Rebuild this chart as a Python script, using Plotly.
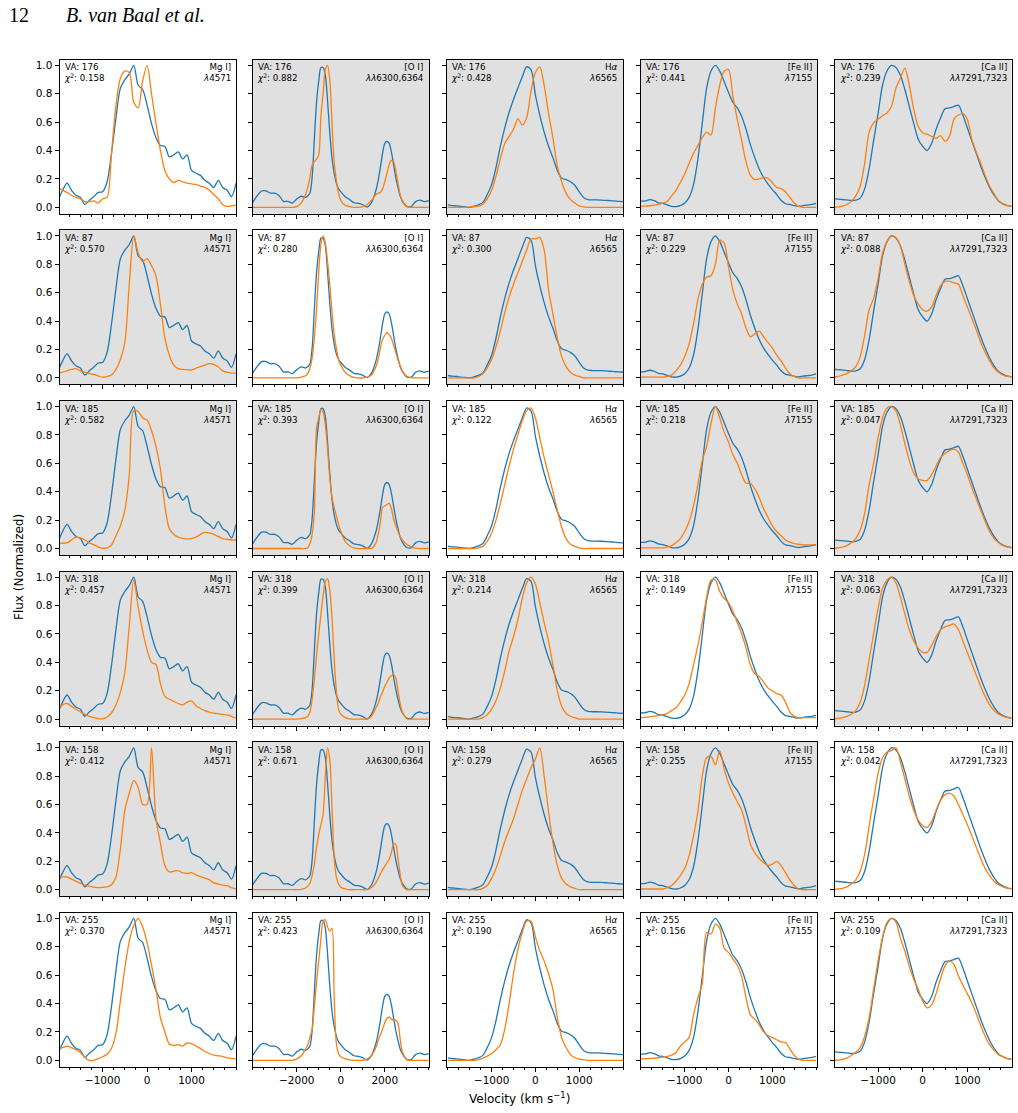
import plotly.graph_objects as go

# ---------------- data ----------------
VA = [176, 87, 185, 318, 158, 255]
LINE_NAMES = ["Mg I]", "[O I]", "H<i>α</i>", "[Fe II]", "[Ca II]"]
LINE_WAVES = ["<i>λ</i>4571", "<i>λλ</i>6300,6364", "<i>λ</i>6565", "<i>λ</i>7155", "<i>λλ</i>7291,7323"]
CHI2 = [
    [0.158, 0.882, 0.428, 0.441, 0.239],
    [0.570, 0.280, 0.300, 0.229, 0.088],
    [0.582, 0.393, 0.122, 0.218, 0.047],
    [0.457, 0.399, 0.214, 0.149, 0.063],
    [0.412, 0.671, 0.279, 0.255, 0.042],
    [0.370, 0.423, 0.190, 0.156, 0.109],
]
BEST = [  # panels drawn on white (best fit per line, and the last row)
    [1, 0, 0, 0, 0],
    [0, 1, 0, 0, 0],
    [0, 0, 1, 0, 0],
    [0, 0, 0, 1, 0],
    [0, 0, 0, 0, 1],
    [1, 1, 1, 1, 1],
]
X_TICKS = [[-1000, 0, 1000], [-2000, 0, 2000], [-1000, 0, 1000], [-1000, 0, 1000], [-1000, 0, 1000]]
Y_TICKS = [0.0, 0.2, 0.4, 0.6, 0.8, 1.0]

VEL = [-2000, -1900, -1800, -1700, -1600, -1500, -1400, -1300, -1200, -1100, -1000,
       -900, -800, -700, -600, -500, -400, -300, -200, -100, 0,
       100, 200, 300, 400, 500, 600, 700, 800, 900, 1000,
       1100, 1200, 1300, 1400, 1500, 1600, 1700, 1800, 1900, 2000]

VEL_OI = [-4000, -3800, -3600, -3400, -3200, -3000, -2800, -2600, -2400, -2200, -2000, -1800, -1600,
          -1500, -1400, -1300, -1200, -1100, -1000, -900, -800, -700, -600, -500, -400, -300, -200, -100, 0,
          200, 400, 600, 800, 1000, 1200, 1400, 1600,
          1700, 1800, 1900, 2000, 2100, 2200, 2300, 2400, 2500, 2600, 2700, 2800,
          3000, 3200, 3400, 3600, 3800, 4000]

# observed spectra (blue), one per line
MG_OBS = [0.05, 0.12, 0.17, 0.12, 0.085, 0.07, 0.02, 0.05, 0.075, 0.105, 0.11,
          0.18, 0.38, 0.63, 0.84, 0.90, 0.94, 1.0, 0.86, 0.83, 0.72,
          0.59, 0.49, 0.435, 0.43, 0.355, 0.37, 0.39, 0.34, 0.37, 0.26,
          0.24, 0.225, 0.19, 0.17, 0.14, 0.19, 0.14, 0.12, 0.075, 0.17]
OI_OBS = [0.035, 0.08, 0.115, 0.115, 0.10, 0.10, 0.082, 0.042, 0.042, 0.03, 0.058, 0.078, 0.07,
          0.08, 0.10, 0.21, 0.48, 0.74, 0.89, 0.985, 0.985, 0.93, 0.75, 0.53, 0.35, 0.24, 0.17, 0.13, 0.11,
          0.075, 0.055, 0.032, 0.028, 0.018, 0.002, 0.035, 0.12,
          0.19, 0.28, 0.38, 0.45, 0.465, 0.45, 0.39, 0.30, 0.21, 0.14, 0.08, 0.045,
          0.007, 0.005, 0.04, 0.05, 0.04, 0.047]
HA_OBS = [0.017, 0.012, 0.01, 0.006, 0.003, 0.0, 0.008, 0.018, 0.035, 0.09, 0.16,
          0.28, 0.43, 0.56, 0.67, 0.76, 0.84, 0.92, 0.99, 0.97, 0.79,
          0.65, 0.53, 0.43, 0.35, 0.26, 0.205, 0.195, 0.18, 0.155, 0.11,
          0.07, 0.055, 0.052, 0.052, 0.051, 0.049, 0.047, 0.045, 0.042, 0.04]
FE_OBS = [0.043, 0.045, 0.054, 0.047, 0.032, 0.028, 0.018, 0.007, 0.005, 0.012, 0.03,
          0.07, 0.16, 0.34, 0.59, 0.84, 0.96, 1.0, 0.96, 0.886, 0.81,
          0.74, 0.70, 0.64, 0.55, 0.44, 0.35, 0.27, 0.21, 0.165, 0.125,
          0.09, 0.05, 0.025, 0.02, 0.012, 0.007, 0.012, 0.016, 0.02, 0.028]
CA_OBS = [0.06, 0.058, 0.055, 0.052, 0.048, 0.05, 0.065, 0.13, 0.27, 0.47, 0.66,
          0.86, 0.96, 1.0, 0.985, 0.93, 0.83, 0.71, 0.59, 0.48, 0.43,
          0.40, 0.45, 0.55, 0.63, 0.695, 0.70, 0.71, 0.72, 0.65, 0.56,
          0.47, 0.38, 0.29, 0.21, 0.14, 0.085, 0.045, 0.025, 0.012, 0.007]

# model spectra (orange), one per viewing angle (rows)
MG_MOD = [
    [0.135, 0.12, 0.105, 0.085, 0.07, 0.06, 0.04, 0.04, 0.045, 0.03, 0.06,
     0.07, 0.38, 0.72, 0.91, 0.96, 0.95, 0.74, 0.70, 0.89, 1.0,
     0.80, 0.59, 0.40, 0.26, 0.20, 0.175, 0.19, 0.18, 0.17, 0.165,
     0.16, 0.15, 0.14, 0.12, 0.09, 0.06, 0.02, 0.005, 0.01, 0.015],
    [0.034, 0.04, 0.05, 0.06, 0.065, 0.05, 0.04, 0.03, 0.025, 0.015, 0.005,
     0.01, 0.02, 0.06, 0.13, 0.25, 0.66, 1.0, 0.88, 0.82, 0.84,
     0.79, 0.72, 0.52, 0.28, 0.16, 0.09, 0.065, 0.06, 0.058, 0.056,
     0.068, 0.08, 0.09, 0.10, 0.095, 0.078, 0.05, 0.04, 0.034, 0.034],
    [0.04, 0.037, 0.04, 0.06, 0.08, 0.075, 0.06, 0.04, 0.028, 0.012, 0.002,
     0.005, 0.025, 0.09, 0.16, 0.27, 0.52, 0.97, 0.965, 0.92, 0.905,
     0.83, 0.72, 0.56, 0.30, 0.14, 0.10, 0.08, 0.072, 0.068, 0.07,
     0.08, 0.10, 0.114, 0.11, 0.10, 0.085, 0.07, 0.065, 0.06, 0.06],
    [0.07, 0.10, 0.11, 0.09, 0.07, 0.05, 0.033, 0.02, 0.012, 0.003, 0.002,
     0.015, 0.045, 0.10, 0.19, 0.33, 0.66, 0.98, 0.79, 0.62, 0.49,
     0.40, 0.385, 0.25, 0.16, 0.14, 0.125, 0.11, 0.10, 0.12, 0.128,
     0.095, 0.075, 0.06, 0.05, 0.042, 0.038, 0.033, 0.03, 0.02, 0.006],
    [0.08, 0.09, 0.09, 0.075, 0.06, 0.045, 0.033, 0.025, 0.018, 0.015, 0.016,
     0.02, 0.035, 0.09, 0.29, 0.56, 0.68, 0.77, 0.72, 0.60, 0.60,
     1.0, 0.50, 0.33, 0.17, 0.125, 0.13, 0.135, 0.118, 0.115, 0.12,
     0.105, 0.092, 0.082, 0.07, 0.048, 0.04, 0.032, 0.028, 0.015, 0.006],
    [0.08, 0.09, 0.10, 0.09, 0.075, 0.055, 0.02, 0.0, 0.0, 0.012, 0.025,
     0.042, 0.085, 0.19, 0.42, 0.65, 0.84, 0.95, 1.0, 0.94, 0.83,
     0.67, 0.50, 0.30, 0.20, 0.115, 0.105, 0.11, 0.10, 0.122, 0.118,
     0.10, 0.082, 0.062, 0.048, 0.036, 0.032, 0.028, 0.018, 0.014, 0.01],
]
OI_MOD = [
    [0, 0, 0, 0, 0, 0, 0, 0, 0, 0, 0.005, 0.03, 0.09,
     0.14, 0.21, 0.30, 0.32, 0.34, 0.37, 0.65, 0.80, 0.97, 1.0, 0.90, 0.60, 0.32, 0.19, 0.10, 0.05,
     0.015, 0.005, 0, 0, 0.005, 0.02, 0.05, 0.09,
     0.10, 0.105, 0.13, 0.18, 0.24, 0.30, 0.33, 0.32, 0.26, 0.17, 0.09, 0.04,
     0.005, 0, 0, 0, 0, 0],
    [0, 0, 0, 0, 0, 0, 0, 0, 0, 0, 0, 0.005, 0.015,
     0.03, 0.07, 0.14, 0.28, 0.48, 0.75, 0.94, 1.0, 0.95, 0.82, 0.66, 0.47, 0.31, 0.21, 0.13, 0.09,
     0.04, 0.016, 0.003, 0, 0, 0.005, 0.02, 0.08,
     0.13, 0.21, 0.27, 0.30, 0.32, 0.305, 0.28, 0.23, 0.18, 0.13, 0.085, 0.05,
     0.012, 0.002, 0, 0, 0, 0],
    [0, 0, 0, 0, 0, 0, 0, 0, 0, 0, 0, 0, 0,
     0.005, 0.035, 0.10, 0.25, 0.85, 0.92, 0.98, 0.96, 0.87, 0.70, 0.50, 0.36, 0.29, 0.23, 0.17, 0.12,
     0.05, 0.02, 0.005, 0, 0, 0, 0, 0.04,
     0.10, 0.18, 0.29, 0.30, 0.31, 0.32, 0.28, 0.21, 0.16, 0.12, 0.085, 0.06,
     0.03, 0.012, 0.003, 0, 0, 0],
    [0, 0, 0, 0, 0, 0, 0, 0, 0, 0, 0, 0.003, 0.01,
     0.02, 0.05, 0.14, 0.28, 0.45, 0.60, 0.74, 0.87, 0.97, 0.99, 0.91, 0.72, 0.43, 0.20, 0.07, 0.035,
     0.01, 0.002, 0, 0, 0, 0, 0.02, 0.08,
     0.11, 0.155, 0.19, 0.23, 0.26, 0.29, 0.305, 0.315, 0.29, 0.20, 0.11, 0.05,
     0.003, 0, 0, 0, 0, 0],
    [0, 0, 0, 0, 0, 0, 0, 0, 0, 0, 0, 0.003, 0.012,
     0.025, 0.045, 0.10, 0.18, 0.30, 0.39, 0.46, 0.53, 0.80, 1.0, 0.92, 0.58, 0.23, 0.09, 0.04, 0.018,
     0.005, 0, 0, 0, 0, 0, 0.015, 0.05,
     0.08, 0.11, 0.14, 0.165, 0.19, 0.215, 0.26, 0.32, 0.32, 0.22, 0.11, 0.03,
     0, 0, 0, 0, 0, 0],
    [0, 0, 0, 0, 0, 0, 0, 0, 0, 0, 0.01, 0.03, 0.08,
     0.11, 0.16, 0.22, 0.38, 0.55, 0.70, 0.86, 0.98, 0.99, 0.94, 0.91, 0.93, 0.45, 0.12, 0.05, 0.025,
     0.01, 0.003, 0, 0, 0, 0.008, 0.035, 0.09,
     0.14, 0.18, 0.22, 0.265, 0.295, 0.305, 0.29, 0.283, 0.283, 0.26, 0.15, 0.06,
     0.005, 0, 0, 0, 0, 0],
]
HA_MOD = [
    [0, 0, 0, 0, 0, 0.002, 0.004, 0.008, 0.022, 0.06, 0.12,
     0.22, 0.34, 0.45, 0.50, 0.55, 0.625, 0.58, 0.63, 0.82, 0.95,
     0.99, 0.86, 0.66, 0.49, 0.29, 0.18, 0.10, 0.055, 0.03, 0.01,
     0.003, 0, 0, 0, 0, 0, 0, 0, 0, 0],
    [0, 0, 0, 0, 0, 0, 0, 0.01, 0.03, 0.07, 0.13,
     0.22, 0.33, 0.46, 0.57, 0.66, 0.74, 0.82, 0.90, 0.98, 0.98,
     0.99, 0.90, 0.62, 0.45, 0.28, 0.15, 0.08, 0.04, 0.02, 0.01,
     0, 0, 0, 0, 0, 0, 0, 0, 0, 0],
    [0, 0, 0, 0, 0, 0, 0, 0.005, 0.015, 0.05, 0.11,
     0.20, 0.32, 0.45, 0.58, 0.70, 0.80, 0.90, 0.97, 0.99, 0.92,
     0.78, 0.64, 0.52, 0.40, 0.27, 0.15, 0.07, 0.03, 0.015, 0.005,
     0, 0, 0, 0, 0, 0, 0, 0, 0, 0],
    [0, 0, 0, 0, 0, 0, 0, 0, 0.01, 0.03, 0.07,
     0.13, 0.22, 0.34, 0.48, 0.58, 0.70, 0.85, 0.96, 1.0, 0.95,
     0.82, 0.68, 0.55, 0.38, 0.20, 0.09, 0.04, 0.02, 0.01, 0,
     0, 0, 0, 0, 0, 0, 0, 0, 0, 0],
    [0, 0, 0, 0, 0, 0, 0, 0, 0.01, 0.03, 0.08,
     0.15, 0.24, 0.34, 0.42, 0.50, 0.60, 0.70, 0.78, 0.86, 0.92,
     1.0, 0.80, 0.55, 0.33, 0.17, 0.08, 0.04, 0.02, 0.01, 0,
     0, 0, 0, 0, 0, 0, 0, 0, 0, 0],
    [0, 0, 0, 0, 0, 0, 0, 0.005, 0.016, 0.03, 0.048,
     0.075, 0.11, 0.22, 0.40, 0.61, 0.78, 0.90, 0.98, 0.98, 0.87,
     0.77, 0.70, 0.61, 0.50, 0.30, 0.16, 0.09, 0.04, 0.018, 0.009,
     0.003, 0, 0, 0, 0, 0, 0, 0, 0, 0],
]
FE_MOD = [
    [0.007, 0.008, 0.011, 0.015, 0.022, 0.03, 0.043, 0.08, 0.12, 0.175, 0.235,
     0.31, 0.38, 0.435, 0.49, 0.53, 0.51, 0.70, 0.86, 0.96, 0.97,
     0.78, 0.62, 0.47, 0.32, 0.225, 0.195, 0.20, 0.21, 0.205, 0.175,
     0.14, 0.132, 0.11, 0.07, 0.03, 0.006, 0, 0, 0, 0],
    [0.005, 0.005, 0.005, 0.005, 0.005, 0.005, 0.01, 0.02, 0.05, 0.09, 0.15,
     0.24, 0.38, 0.55, 0.66, 0.71, 0.72, 0.80, 0.97, 0.95, 0.78,
     0.62, 0.52, 0.45, 0.35, 0.29, 0.31, 0.33, 0.29, 0.25, 0.21,
     0.16, 0.12, 0.07, 0.03, 0.01, 0, 0, 0, 0, 0],
    [0.005, 0.005, 0.005, 0.005, 0.005, 0.005, 0.01, 0.02, 0.04, 0.07, 0.12,
     0.19, 0.30, 0.45, 0.62, 0.72, 0.88, 1.0, 0.92, 0.82, 0.75,
     0.66, 0.60, 0.52, 0.46, 0.46, 0.42, 0.36, 0.28, 0.22, 0.16,
     0.12, 0.09, 0.06, 0.045, 0.035, 0.03, 0.025, 0.025, 0.025, 0.025],
    [0.01, 0.012, 0.015, 0.02, 0.025, 0.03, 0.04, 0.06, 0.08, 0.12, 0.17,
     0.25, 0.38, 0.52, 0.68, 0.86, 0.98, 0.98, 0.90, 0.85, 0.82,
     0.76, 0.68, 0.60, 0.50, 0.38, 0.32, 0.30, 0.26, 0.22, 0.20,
     0.18, 0.17, 0.12, 0.05, 0.02, 0.01, 0.01, 0.01, 0.01, 0.01],
    [0.005, 0.005, 0.005, 0.005, 0.005, 0.005, 0.015, 0.03, 0.06, 0.10, 0.15,
     0.24, 0.38, 0.55, 0.80, 0.93, 0.94, 0.88, 0.98, 0.85, 0.75,
     0.68, 0.62, 0.56, 0.45, 0.32, 0.26, 0.22, 0.19, 0.17, 0.18,
     0.20, 0.17, 0.12, 0.07, 0.03, 0.005, 0, 0, 0, 0],
    [0.01, 0.011, 0.013, 0.015, 0.018, 0.022, 0.028, 0.036, 0.055, 0.10, 0.13,
     0.16, 0.32, 0.44, 0.54, 0.90, 0.89, 0.96, 0.93, 0.79, 0.76,
     0.715, 0.67, 0.59, 0.44, 0.32, 0.29, 0.25, 0.20, 0.175, 0.16,
     0.145, 0.13, 0.125, 0.08, 0.035, 0.008, 0, 0, 0, 0],
]
CA_MOD = [
    [0.0, 0.003, 0.008, 0.02, 0.04, 0.08, 0.15, 0.31, 0.53, 0.595, 0.62,
     0.645, 0.665, 0.71, 0.84, 0.91, 0.98, 0.86, 0.69, 0.57, 0.525,
     0.515, 0.50, 0.485, 0.505, 0.465, 0.50, 0.62, 0.65, 0.66, 0.62,
     0.48, 0.39, 0.31, 0.225, 0.15, 0.095, 0.047, 0.022, 0.012, 0.007],
    [0.005, 0.01, 0.02, 0.03, 0.05, 0.08, 0.15, 0.30, 0.48, 0.56, 0.70,
     0.88, 0.96, 1.0, 0.99, 0.93, 0.80, 0.68, 0.58, 0.52, 0.48,
     0.47, 0.50, 0.58, 0.65, 0.68, 0.68, 0.67, 0.66, 0.58, 0.50,
     0.42, 0.34, 0.25, 0.18, 0.12, 0.07, 0.04, 0.02, 0.01, 0.005],
    [0.0, 0.005, 0.01, 0.02, 0.04, 0.07, 0.13, 0.25, 0.45, 0.60, 0.78,
     0.92, 0.99, 1.0, 0.97, 0.87, 0.74, 0.62, 0.53, 0.49, 0.48,
     0.48, 0.52, 0.58, 0.64, 0.67, 0.69, 0.70, 0.68, 0.60, 0.52,
     0.43, 0.35, 0.27, 0.19, 0.12, 0.07, 0.04, 0.02, 0.01, 0.005],
    [0.0, 0.005, 0.01, 0.02, 0.035, 0.06, 0.12, 0.24, 0.42, 0.60, 0.78,
     0.92, 0.98, 1.0, 0.96, 0.86, 0.74, 0.63, 0.55, 0.50, 0.47,
     0.47, 0.52, 0.58, 0.63, 0.65, 0.66, 0.67, 0.63, 0.55, 0.47,
     0.39, 0.31, 0.23, 0.16, 0.10, 0.06, 0.035, 0.02, 0.01, 0.005],
    [0.0, 0.005, 0.01, 0.02, 0.04, 0.07, 0.13, 0.25, 0.45, 0.64, 0.82,
     0.93, 0.97, 0.98, 1.0, 0.90, 0.78, 0.66, 0.56, 0.49, 0.45,
     0.44, 0.48, 0.56, 0.63, 0.67, 0.68, 0.66, 0.60, 0.53, 0.46,
     0.38, 0.30, 0.22, 0.15, 0.10, 0.06, 0.035, 0.02, 0.01, 0.005],
    [0.0, 0.002, 0.007, 0.016, 0.035, 0.057, 0.09, 0.17, 0.30, 0.50, 0.70,
     0.87, 0.97, 1.0, 0.975, 0.86, 0.77, 0.66, 0.57, 0.50, 0.42,
     0.37, 0.39, 0.47, 0.575, 0.665, 0.70, 0.675, 0.595, 0.53, 0.47,
     0.405, 0.33, 0.245, 0.17, 0.11, 0.07, 0.04, 0.025, 0.012, 0.005],
]

COLUMNS = [
    (VEL, MG_OBS, MG_MOD),
    (VEL_OI, OI_OBS, OI_MOD),
    (VEL, HA_OBS, HA_MOD),
    (VEL, FE_OBS, FE_MOD),
    (VEL, CA_OBS, CA_MOD),
]
for xs, obs, mods in COLUMNS:
    assert len(obs) == len(xs)
    for m in mods:
        assert len(m) == len(xs), (len(m), len(xs))

# ---------------- layout ----------------
W, H = 1018, 1113
COL_LEFT = [59.5, 252.5, 446.5, 640.5, 835.0]
PANEL_W = 176.5
ROW_TOP = [59.7, 230.3, 400.9, 571.5, 742.1, 912.7]
PANEL_H = 154.0
X_RANGES = [[-1970, 2000], [-4010, 4010], [-2030, 2000], [-2010, 2020], [-1965, 1990]]
X_MINOR = [250, 500, 250, 250, 250]
Y_RANGE = [-0.045, 1.04]

BLUE = "#1f77b4"
ORANGE = "#ff7f0e"
GRAY = "#e0e0e0"
FONT = "DejaVu Sans"

fig = go.Figure()
shapes = []
annotations = []
layout = {}

for r in range(6):
    for c in range(5):
        idx = r * 5 + c + 1
        sfx = "" if idx == 1 else str(idx)
        xs, obs, mods = COLUMNS[c]
        fig.add_trace(go.Scatter(x=xs, y=obs, mode="lines", xaxis="x" + sfx, yaxis="y" + sfx,
                                 line=dict(color=BLUE, width=1.3, shape="spline", smoothing=0.8),
                                 showlegend=False, hoverinfo="skip"))
        fig.add_trace(go.Scatter(x=xs, y=mods[r], mode="lines", xaxis="x" + sfx, yaxis="y" + sfx,
                                 line=dict(color=ORANGE, width=1.3, shape="spline", smoothing=0.8),
                                 showlegend=False, hoverinfo="skip"))
        x0 = COL_LEFT[c] / W
        x1 = (COL_LEFT[c] + PANEL_W) / W
        y1 = (H - ROW_TOP[r]) / H
        y0 = (H - ROW_TOP[r] - PANEL_H) / H
        layout["xaxis" + sfx] = dict(
            domain=[x0, x1], anchor="y" + sfx, range=X_RANGES[c], automargin=False,
            showline=True, mirror=True, linecolor="black", linewidth=1,
            ticks="outside", ticklen=4, tickwidth=1, tickcolor="black",
            tickmode="array", tickvals=X_TICKS[c], showgrid=False, zeroline=False,
            showticklabels=(r == 5),
            tickfont=dict(family=FONT, size=10.5, color="black"),
            minor=dict(tickmode="linear", tick0=0, dtick=X_MINOR[c], ticks="outside", ticklen=2,
                       tickwidth=0.8, tickcolor="black", showgrid=False),
        )
        layout["yaxis" + sfx] = dict(
            domain=[y0, y1], anchor="x" + sfx, range=Y_RANGE, automargin=False,
            showline=True, mirror=True, linecolor="black", linewidth=1,
            ticks="outside", ticklen=4, tickwidth=1, tickcolor="black",
            tickmode="array", tickvals=Y_TICKS, tickformat=".1f", showgrid=False, zeroline=False,
            showticklabels=(c == 0),
            tickfont=dict(family=FONT, size=10.5, color="black"),
        )
        if not BEST[r][c]:
            shapes.append(dict(type="rect", xref="x" + sfx + " domain", yref="y" + sfx + " domain",
                               x0=0, x1=1, y0=0, y1=1, fillcolor=GRAY, line=dict(width=0),
                               layer="below"))
        annotations.append(dict(
            xref="x" + sfx + " domain", yref="y" + sfx + " domain", x=0.015, y=0.995,
            xanchor="left", yanchor="top", align="left", showarrow=False,
            text=f"VA: {VA[r]}<br><i>χ</i><sup>2</sup>: {CHI2[r][c]:.3f}",
            font=dict(family=FONT, size=8.7, color="black")))
        annotations.append(dict(
            xref="x" + sfx + " domain", yref="y" + sfx + " domain", x=0.985, y=0.995,
            xanchor="right", yanchor="top", align="right", showarrow=False,
            text=f"{LINE_NAMES[c]}<br>{LINE_WAVES[c]}",
            font=dict(family=FONT, size=8.7, color="black")))

# page header and axis titles
annotations.append(dict(xref="paper", yref="paper", x=7 / W, y=1 - 15 / H, xanchor="left", yanchor="middle",
                        showarrow=False, text="12",
                        font=dict(family="Liberation Serif", size=20, color="black")))
annotations.append(dict(xref="paper", yref="paper", x=64 / W, y=1 - 15 / H, xanchor="left", yanchor="middle",
                        showarrow=False, text="<i>B. van Baal et al.</i>",
                        font=dict(family="Liberation Serif", size=20, color="black")))
annotations.append(dict(xref="paper", yref="paper", x=19 / W, y=1 - 567 / H, xanchor="center", yanchor="middle",
                        showarrow=False, textangle=-90, text="Flux (Normalized)",
                        font=dict(family=FONT, size=12, color="black")))
annotations.append(dict(xref="paper", yref="paper", x=519 / W, y=1 - 1098 / H, xanchor="center", yanchor="middle",
                        showarrow=False, text="Velocity (km s<sup>−1</sup>)",
                        font=dict(family=FONT, size=12, color="black")))

fig.update_layout(
    width=W, height=H, margin=dict(l=0, r=0, t=0, b=0, autoexpand=False),
    paper_bgcolor="white", plot_bgcolor="white",
    shapes=shapes, annotations=annotations, showlegend=False,
    **layout,
)
fig.write_html("out.html")
